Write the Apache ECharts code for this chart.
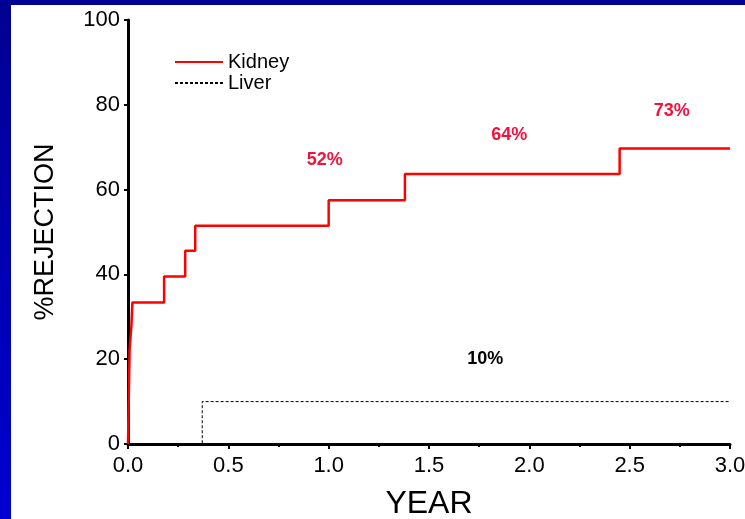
<!DOCTYPE html>
<html>
<head>
<meta charset="utf-8">
<script src="https://cdn.jsdelivr.net/npm/echarts@6/dist/echarts.min.js"></script>
<style>
html,body{margin:0;padding:0;background:#fff;}
#c{width:745px;height:519px;}
</style>
</head>
<body>
<div id="c"></div>
<script>
// Data
const kidneyTimes = [0, 0.008, 0.017, 0.022, 0.18, 0.285, 0.335, 1.0, 1.38, 2.45, 3.0];
const kidneyValues = [0, 22.2, 27.9, 33.4, 39.5, 45.6, 51.5, 57.5, 63.7, 69.7, 69.7];
const liverTimes = [0, 0.37, 3.0];
const liverValues = [0, 10, 10];
const redLabelX = [0.98, 1.90, 2.71];
const redLabelY = [67, 72.9, 78.5];
const redLabelText = ['52%', '64%', '73%'];
const blackLabelX = [1.78];
const blackLabelY = [20];
const blackLabelText = ['10%'];
const xTicks = [0, 0.5, 1.0, 1.5, 2.0, 2.5, 3.0];
const yTicks = [0, 20, 40, 60, 80, 100];

const FONT = 'Liberation Sans, Arial, sans-serif';
const zip = (a, b) => a.map((v, i) => [v, b[i]]);

const chart = echarts.init(document.getElementById('c'), null, {renderer: 'canvas'});
chart.setOption({
  animation: false,
  backgroundColor: '#ffffff',
  graphic: [
    {type: 'rect', left: 0, top: 0, shape: {width: 745, height: 5}, style: {fill: '#000092'}, z: 100},
    {type: 'rect', left: 0, top: 0, shape: {width: 11, height: 519},
      style: {fill: new echarts.graphic.LinearGradient(0, 0, 0, 1, [
        {offset: 0, color: '#000092'}, {offset: 1, color: '#0000d2'}])}, z: 100}
  ],
  grid: {left: 128, right: 15, top: 20, bottom: 75, containLabel: false, outerBoundsMode: 'none'},
  legend: {
    orient: 'vertical', left: 169, top: 47, itemWidth: 48, itemHeight: 14, itemGap: 1,
    itemStyle: {opacity: 0},
    textStyle: {fontFamily: FONT, fontSize: 20, lineHeight: 16, color: '#000'},
    data: ['Kidney', 'Liver']
  },
  xAxis: {
    type: 'value', min: 0, max: 3, interval: 0.5,
    name: 'YEAR', nameLocation: 'middle', nameGap: 44,
    nameTextStyle: {fontFamily: FONT, fontSize: 32, color: '#000'},
    axisLine: {show: true, onZero: false, lineStyle: {color: '#000', width: 3}},
    axisTick: {show: true, length: 5, lineStyle: {color: '#000', width: 2}},
    minorTick: {show: true, splitNumber: 2, length: 3, lineStyle: {color: '#000', width: 2}},
    axisLabel: {margin: 11, fontFamily: FONT, fontSize: 22, color: '#000',
      formatter: v => xTicks.includes(v) ? v.toFixed(1) : ''},
    splitLine: {show: false}
  },
  yAxis: {
    type: 'value', min: 0, max: 100, interval: 20,
    name: '%REJECTION', nameLocation: 'middle', nameGap: 69, nameRotate: 90,
    nameTextStyle: {fontFamily: FONT, fontSize: 27, color: '#000'},
    axisLine: {show: true, lineStyle: {color: '#000', width: 3}},
    axisTick: {show: true, length: 4, lineStyle: {color: '#000', width: 2}},
    axisLabel: {margin: 8, fontFamily: FONT, fontSize: 22, color: '#000',
      formatter: v => yTicks.includes(v) ? String(v) : ''},
    splitLine: {show: false}
  },
  series: [
    {
      name: 'Kidney', type: 'line', step: 'end', symbol: 'none', showSymbol: false,
      data: zip(kidneyTimes, kidneyValues),
      lineStyle: {color: '#ff0000', width: 2.5}, itemStyle: {color: '#ff0000'}, z: 3
    },
    {
      name: 'Liver', type: 'line', step: 'end', symbol: 'none', showSymbol: false,
      data: zip(liverTimes, liverValues),
      lineStyle: {color: '#000', width: 1, type: [3, 2]}, itemStyle: {color: '#000'}, z: 2
    },
    {
      type: 'scatter', symbolSize: 0, silent: true, itemStyle: {opacity: 1},
      data: redLabelX.map((x, i) => ({value: [x, redLabelY[i]], name: redLabelText[i]})),
      label: {show: true, position: 'inside', formatter: p => p.name, opacity: 1,
        fontFamily: FONT, fontSize: 18, fontWeight: 'bold', color: '#f2123c'}
    },
    {
      type: 'scatter', symbolSize: 0, silent: true, itemStyle: {opacity: 1},
      data: blackLabelX.map((x, i) => ({value: [x, blackLabelY[i]], name: blackLabelText[i]})),
      label: {show: true, position: 'inside', formatter: p => p.name, opacity: 1,
        fontFamily: FONT, fontSize: 18, fontWeight: 'bold', color: '#000'}
    }
  ]
});
</script>
</body>
</html>
